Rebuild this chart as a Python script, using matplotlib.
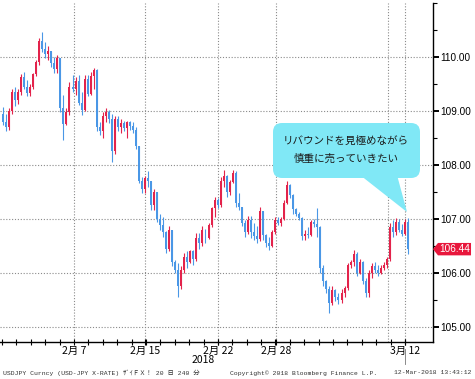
import matplotlib
matplotlib.use('Agg')
import matplotlib.pyplot as plt
import numpy as np
from matplotlib.patches import FancyBboxPatch, Polygon
from matplotlib.transforms import IdentityTransform, blended_transform_factory
from matplotlib.lines import Line2D

# ---------------- data (USDJPY 240-minute candles) ----------------
first_open = 108.95
highs = [109.08, 108.95, 109.05, 109.40, 109.45, 109.40, 109.68, 109.73, 109.58, 109.50,
         109.70, 109.95, 110.35, 110.47, 110.28, 110.20, 110.12, 110.00, 110.04, 109.98,
         109.30, 109.05, 109.54, 109.67, 109.62, 109.67, 109.36, 109.67, 109.67, 109.72,
         109.80, 109.78, 108.80, 108.99, 109.05, 109.02, 108.95, 108.90, 108.90, 108.85,
         108.82, 108.82, 108.82, 108.80, 108.70, 108.35, 107.78, 107.80, 107.88, 107.70,
         107.55, 107.50, 107.10, 107.04, 106.78, 106.86, 106.80, 106.24, 106.18, 106.12,
         106.36, 106.40, 106.43, 106.42, 106.73, 106.73, 106.86, 106.82, 106.92, 107.23,
         107.41, 107.38, 107.78, 107.90, 107.82, 107.72, 107.90, 107.88, 107.48, 107.22,
         106.98, 107.05, 107.05, 106.92, 106.86, 107.23, 107.15, 106.72, 106.67, 106.80,
         107.04, 107.04, 107.04, 107.35, 107.70, 107.64, 107.47, 107.20, 107.12, 107.04,
         106.80, 106.85, 106.98, 107.00, 107.20, 106.87, 106.15, 105.87, 105.75, 105.75,
         105.70, 105.62, 105.70, 105.75, 106.18, 106.24, 106.43, 106.38, 106.25, 106.22,
         105.90, 106.05, 106.18, 106.20, 106.15, 106.15, 106.20, 106.30, 106.92, 106.98,
         107.02, 107.00, 106.90, 107.00, 107.02]
lows = [108.74, 108.62, 108.65, 108.95, 109.10, 109.12, 109.30, 109.40, 109.28, 109.27,
        109.40, 109.65, 109.85, 110.10, 109.98, 109.95, 109.82, 109.70, 109.70, 108.99,
        108.46, 108.74, 108.93, 109.36, 109.30, 109.11, 108.93, 109.00, 109.28, 109.30,
        109.40, 108.62, 108.55, 108.50, 108.80, 108.77, 108.06, 108.20, 108.62, 108.60,
        108.62, 108.50, 108.65, 108.60, 108.30, 107.66, 107.48, 107.48, 107.60, 107.17,
        107.17, 106.95, 106.80, 106.67, 106.36, 106.40, 106.12, 105.99, 105.56, 105.70,
        105.99, 106.10, 106.18, 106.15, 106.22, 106.45, 106.50, 106.55, 106.62, 106.85,
        107.04, 107.20, 107.22, 107.60, 107.41, 107.45, 107.66, 107.23, 107.17, 106.86,
        106.67, 106.72, 106.65, 106.61, 106.55, 106.60, 106.61, 106.48, 106.43, 106.48,
        106.72, 106.88, 106.86, 106.98, 107.28, 107.38, 107.10, 107.05, 106.98, 106.61,
        106.61, 106.65, 106.68, 106.85, 106.67, 106.00, 105.75, 105.62, 105.25, 105.40,
        105.48, 105.42, 105.45, 105.56, 105.69, 106.10, 106.12, 105.95, 105.98, 105.80,
        105.56, 105.56, 105.90, 106.00, 105.95, 105.98, 106.05, 106.10, 106.22, 106.67,
        106.70, 106.75, 106.68, 106.70, 106.35]
closes = [108.80, 108.70, 109.00, 109.35, 109.20, 109.35, 109.62, 109.45, 109.33, 109.45,
          109.68, 109.90, 110.30, 110.15, 110.05, 110.12, 109.88, 109.78, 109.98, 109.05,
          108.75, 108.98, 109.45, 109.40, 109.55, 109.15, 109.02, 109.60, 109.32, 109.65,
          109.75, 108.70, 108.62, 108.90, 108.98, 108.85, 108.25, 108.85, 108.70, 108.78,
          108.68, 108.80, 108.72, 108.65, 108.35, 107.70, 107.55, 107.75, 107.70, 107.25,
          107.50, 107.00, 106.88, 106.75, 106.45, 106.80, 106.20, 106.05, 105.75, 106.05,
          106.30, 106.20, 106.40, 106.25, 106.65, 106.55, 106.80, 106.65, 106.88, 107.20,
          107.35, 107.25, 107.70, 107.80, 107.50, 107.68, 107.85, 107.30, 107.22, 106.92,
          106.75, 106.98, 106.75, 106.68, 106.62, 107.15, 106.70, 106.55, 106.50, 106.75,
          106.98, 106.92, 107.00, 107.30, 107.62, 107.45, 107.18, 107.10, 107.02, 106.68,
          106.72, 106.70, 106.95, 106.90, 106.85, 106.10, 105.85, 105.70, 105.45, 105.68,
          105.55, 105.50, 105.62, 105.72, 106.15, 106.20, 106.35, 106.00, 106.20, 105.85,
          105.62, 106.00, 106.12, 106.05, 106.00, 106.10, 106.15, 106.25, 106.85, 106.75,
          106.95, 106.80, 106.72, 106.95, 106.44]
opens = [first_open] + closes[:-1]

ytick_values = [105, 106, 107, 108, 109, 110]
ytick_labels = ['105.00', '106.00', '107.00', '108.00', '109.00', '110.00']
date_labels = ['2月 7', '2月 15', '2月 22', '2月 28', '3月 12']
date_bar_pos = [23.5, 47.0, 71.1, 90.3, 133.0]
extra_grid_pos = [127.4]
year_label = '2018'
year_pos = 66.2
last_price = 106.44
last_label = '106.44'
callout_lines = ['リバウンドを見極めながら', '慎重に売っていきたい']
footer_left = 'USDJPY Curncy (USD-JPY X-RATE) ｻﾞｲＦＸ！ 20 日 240 分'
footer_mid = 'Copyright© 2018 Bloomberg Finance L.P.'
footer_right = '12-Mar-2018 13:43:12'

RED = '#e3234b'
BLUE = '#4a97e6'
TAG_RED = '#e8173c'
GRID = '#8a8a8a'
CALLOUT = '#80e8f6'
CJK = ['Noto Sans CJK JP', 'DejaVu Sans']
MONO = ['Liberation Mono', 'Noto Sans CJK JP']

W, H = 475, 379
fig = plt.figure(figsize=(W / 100, H / 100), dpi=100)
fig.patch.set_facecolor('white')

ax_l, ax_r, ax_t, ax_b = 0, 433, 3, 342
ax = fig.add_axes([ax_l / W, 1 - ax_b / H, (ax_r - ax_l) / W, (ax_b - ax_t) / H])

# ---------------- candles ----------------
o = np.array(opens)
c = np.array(closes)
h = np.maximum(np.array(highs), np.maximum(o, c))
l = np.minimum(np.array(lows), np.minimum(o, c))
x = np.arange(len(c))
cols = np.where(c >= o, RED, BLUE)
ax.vlines(x, l, h, colors=cols, linewidth=0.8, zorder=3)
ax.bar(x, np.maximum(np.abs(c - o), 0.02), bottom=np.minimum(o, c), width=0.66,
       color=cols, linewidth=0, zorder=3)

ax.set_xlim(-0.99, 142.27)
ax.set_ylim(104.72, 111.0)

# ---------------- grid ----------------
for yv in ytick_values:
    ax.axhline(yv, color=GRID, linewidth=0.8, linestyle=(0, (1, 1.6)), zorder=1)
for xv in date_bar_pos + extra_grid_pos:
    ax.axvline(xv, color=GRID, linewidth=0.8, linestyle=(0, (1, 1.6)), zorder=1)

# ---------------- axes ----------------
for s in ['left', 'top']:
    ax.spines[s].set_visible(False)
for s in ['right', 'bottom']:
    ax.spines[s].set_color('black')
    ax.spines[s].set_linewidth(1.0)

ax.yaxis.tick_right()
ax.set_yticks(ytick_values)
ax.set_yticklabels(ytick_labels, family=['Liberation Sans'], fontsize=7.2)
ax.set_yticks([105.5, 106.5, 107.5, 108.5, 109.5, 110.5, 111.0], minor=True)
ax.tick_params(axis='y', which='major', direction='out', length=4, width=1.4, pad=1, colors='black')
ax.tick_params(axis='y', which='minor', direction='out', length=3, width=0.8)

ax.set_xticks(date_bar_pos)
ax.set_xticklabels(date_labels, family=CJK, fontsize=7.5)
ax.set_xticks([23.5 + 4.761 * k for k in range(-5, 24)], minor=True)
ax.tick_params(axis='x', which='major', direction='inout', length=4, width=0.8, pad=0.5)
ax.tick_params(axis='x', which='minor', direction='inout', length=4, width=0.8)

ax.text(year_pos, -0.052, year_label, transform=blended_transform_factory(ax.transData, ax.transAxes),
        ha='center', va='center', fontsize=7.5, family=CJK, clip_on=False)

# ---------------- last price tag ----------------
bt = blended_transform_factory(ax.transAxes, ax.transData)
hh = 0.115
tag = Polygon([(1.0, last_price), (1.0115, last_price + hh), (1.0878, last_price + hh),
               (1.0878, last_price - hh), (1.0115, last_price - hh)], closed=True,
              transform=bt, facecolor=TAG_RED, edgecolor='none', clip_on=False, zorder=5)
ax.add_patch(tag)
ax.text(1.049, last_price, last_label, transform=bt, ha='center', va='center', color='white',
        fontsize=7.2, family=['Liberation Sans'], clip_on=False, zorder=6)

# ---------------- callout ----------------
box = FancyBboxPatch((273, H - 178), 147, 55, boxstyle='round,pad=0,rounding_size=9',
                     transform=IdentityTransform(), facecolor=CALLOUT, edgecolor='none')
fig.add_artist(box)
tri = Polygon([(360, H - 175), (397, H - 175), (407, H - 212)], closed=True,
              transform=IdentityTransform(), facecolor=CALLOUT, edgecolor='none')
fig.add_artist(tri)
fig.text(346 / W, 1 - 141 / H, callout_lines[0], ha='center', va='center', fontsize=7.6,
         family=CJK, color='#1a1a1a')
fig.text(346 / W, 1 - 159 / H, callout_lines[1], ha='center', va='center', fontsize=7.6,
         family=CJK, color='#1a1a1a')

# ---------------- footer ----------------
fig.add_artist(Line2D([405 / W, 405 / W], [1 - 349 / H, 1 - 364 / H], color='#777777', linewidth=0.6))
fig.text(3 / W, 1 - 373 / H, footer_left, ha='left', va='center', fontsize=4.6, family=MONO, color='#333333')
fig.text(230 / W, 1 - 373 / H, footer_mid, ha='left', va='center', fontsize=4.6, family=MONO, color='#333333')
fig.text(472 / W, 1 - 373 / H, footer_right, ha='right', va='center', fontsize=4.6, family=MONO, color='#333333')

fig.savefig('out.png', dpi=100)
